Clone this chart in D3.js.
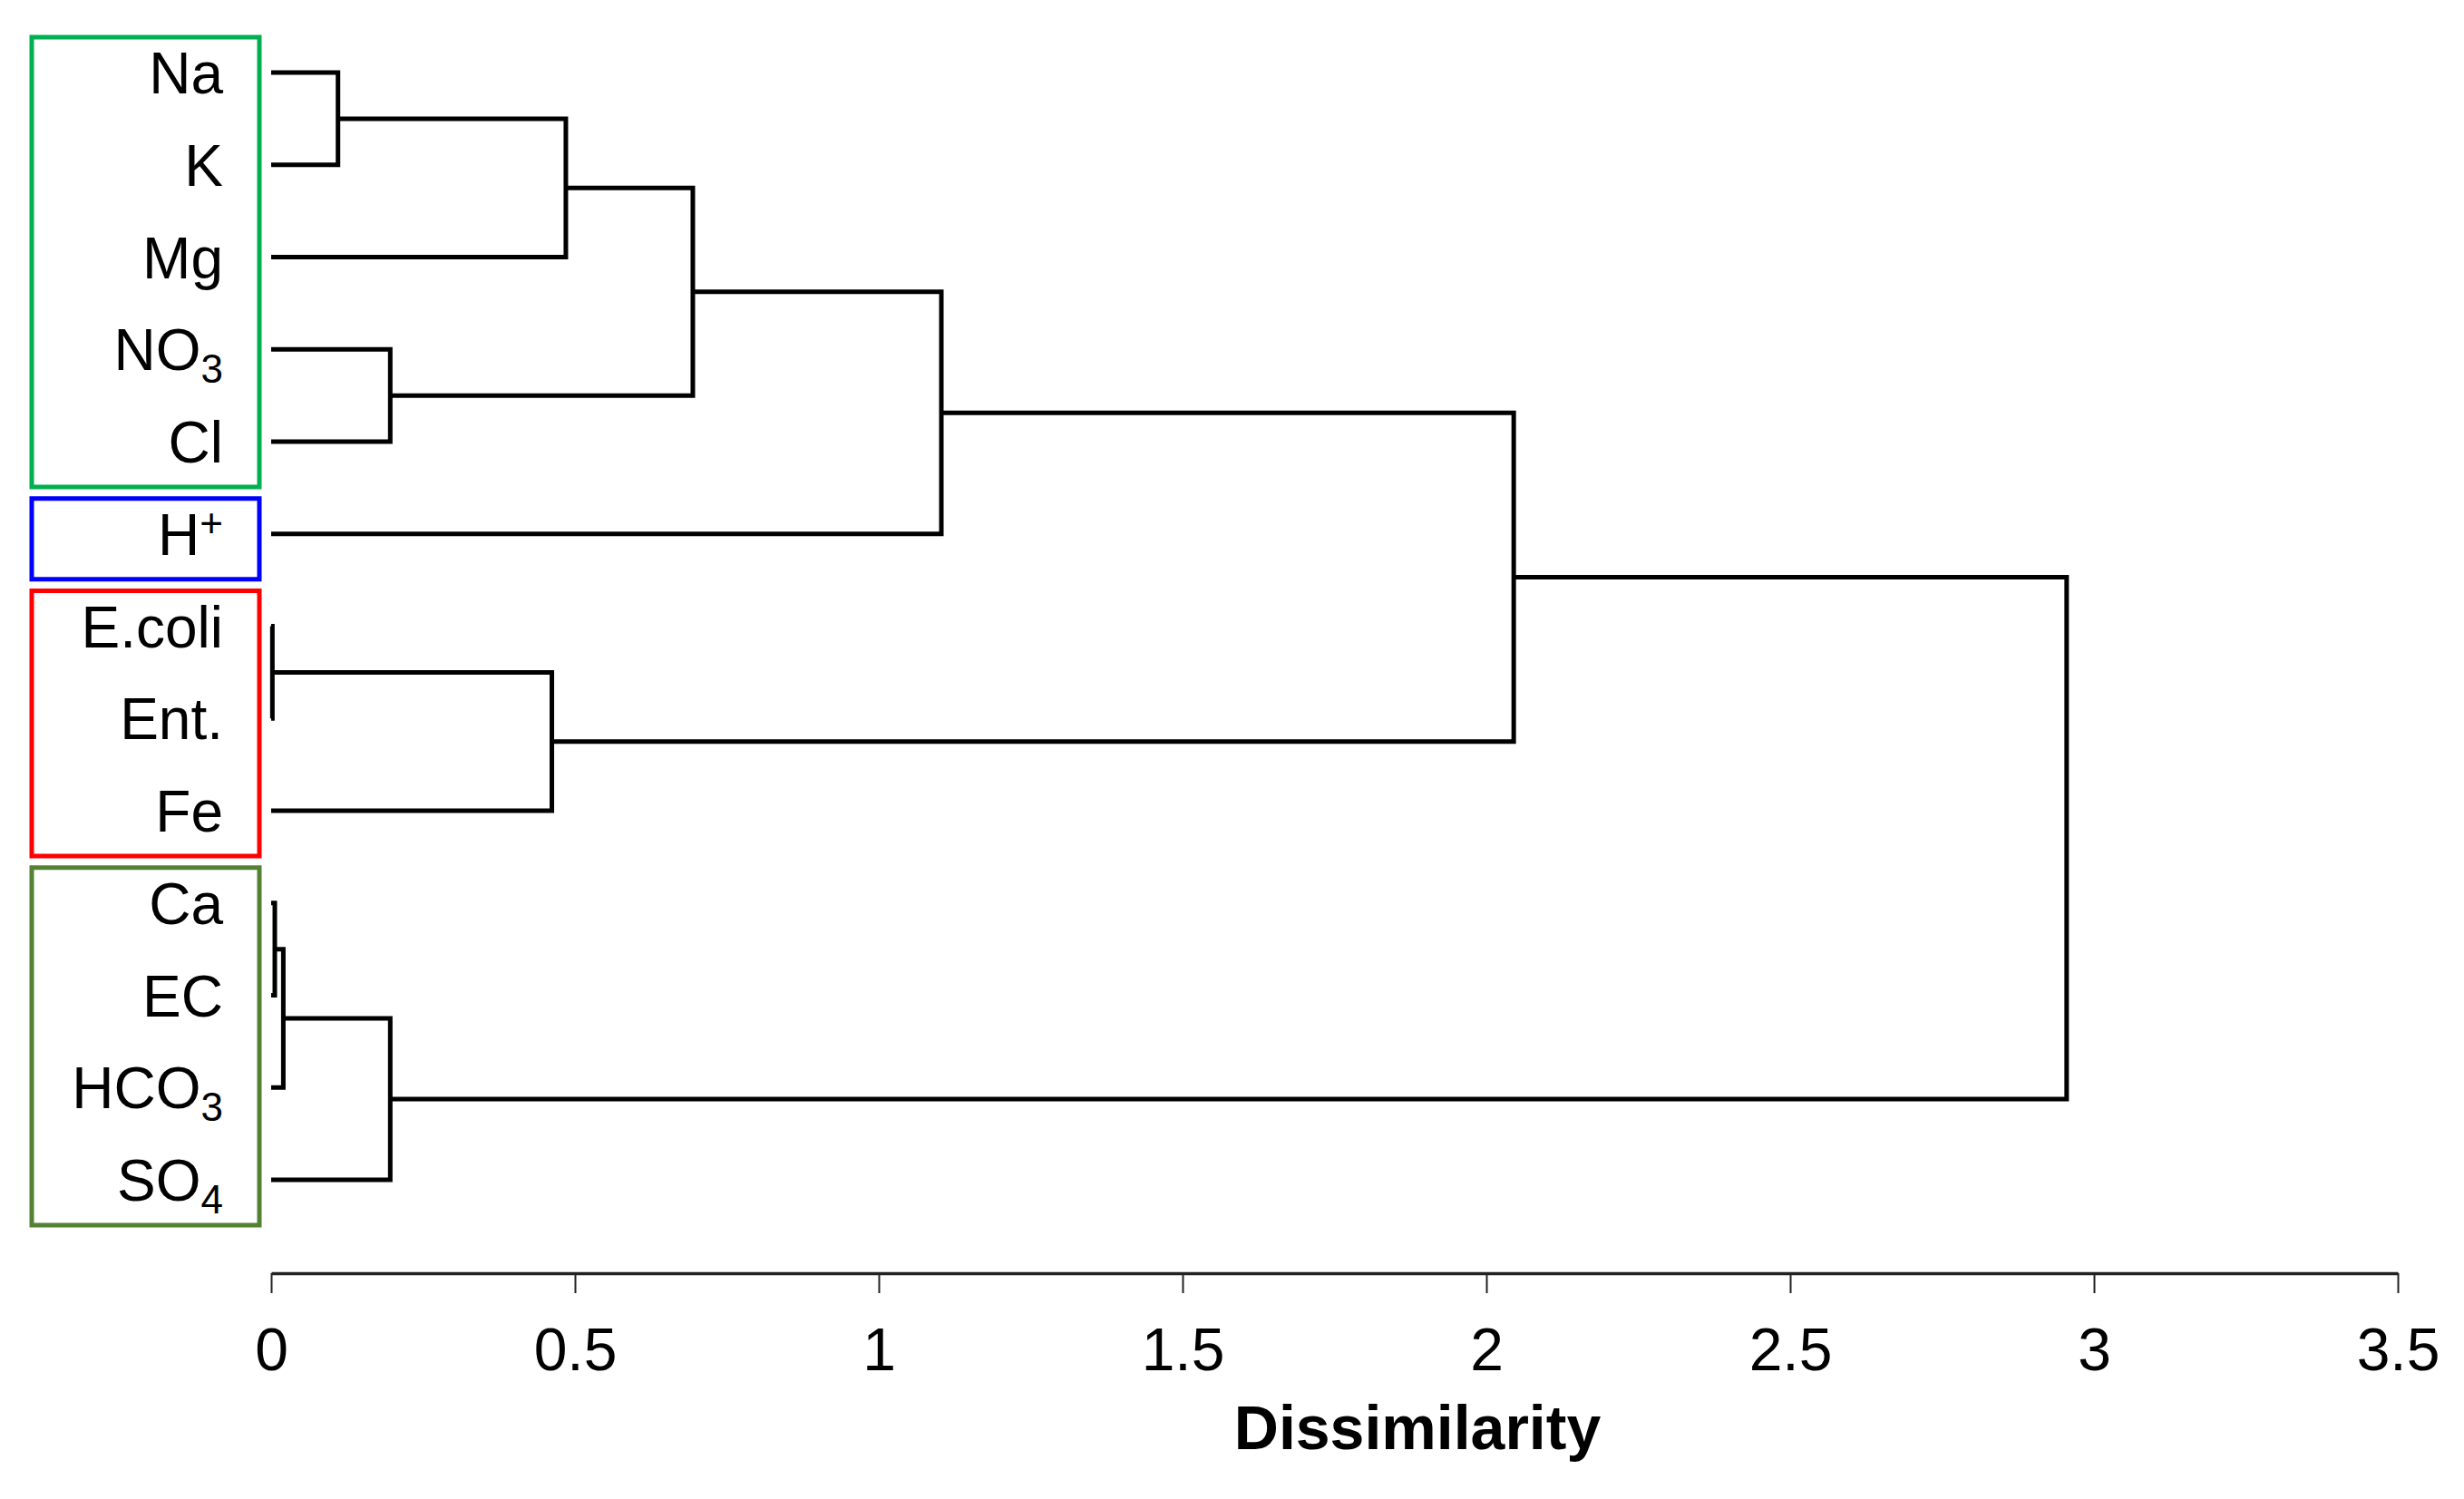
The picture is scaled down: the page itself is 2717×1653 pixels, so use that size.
<!DOCTYPE html>
<html>
<head>
<meta charset="utf-8">
<script src="https://cdn.jsdelivr.net/npm/d3@7"></script>
<style>
  html, body { margin: 0; padding: 0; background: #fff; }
  svg { display: block; }
  text { font-family: "Liberation Sans", Arial, Helvetica, sans-serif; fill: #000; }
</style>
</head>
<body>
<svg id="chart" width="2717" height="1653"></svg>
<script>
// ---------------- DATA ----------------
const leafMain = ["Na", "K", "Mg", "NO", "Cl", "H", "E.coli", "Ent.", "Fe", "Ca", "EC", "HCO", "SO"];
const leafSub  = ["", "", "", "3", "", "", "", "", "", "", "", "3", "4"];
const leafSup  = ["", "", "", "", "", "+", "", "", "", "", "", "", ""];

// merges: node ids 0..12 are leaves, merge k gets id 13 + k
const mergeLeft   = [0, 13, 3, 14, 16, 6, 18, 17, 9, 21, 22, 20];
const mergeRight  = [1, 2, 4, 15, 5, 7, 8, 19, 10, 11, 12, 23];
const mergeHeight = [0.110, 0.485, 0.196, 0.694, 1.103, 0.002, 0.462, 2.045, 0.006, 0.020, 0.196, 2.955];

// groups (boxes around labels)
const groupStart = [0, 5, 6, 9];
const groupEnd   = [4, 5, 8, 12];
const groupColor = ["#00B050", "#0000FF", "#FF0000", "#548235"];

const tickValues = [0, 0.5, 1, 1.5, 2, 2.5, 3, 3.5];
const axisTitle = "Dissimilarity";

// ---------------- LAYOUT ----------------
const svg = d3.select("#chart");
const x = d3.scaleLinear().domain([0, 3.5]).range([299, 2644]);
const y = d3.scalePoint().domain(d3.range(leafMain.length)).range([80, 1301]);

// node positions
const nodeY = [], nodeH = [];
leafMain.forEach((_, i) => { nodeY[i] = y(i); nodeH[i] = 0; });
mergeHeight.forEach((h, k) => {
  const id = leafMain.length + k;
  nodeY[id] = (nodeY[mergeLeft[k]] + nodeY[mergeRight[k]]) / 2;
  nodeH[id] = h;
});

// ---------------- BOXES ----------------
const boxLeft = 35, boxRight = 286, padTop = 39, padBottom = 50;
svg.append("g").selectAll("rect")
  .data(groupStart.map((s, i) => ({ s, e: groupEnd[i], c: groupColor[i] })))
  .join("rect")
  .attr("x", boxLeft)
  .attr("width", boxRight - boxLeft)
  .attr("y", d => y(d.s) - padTop)
  .attr("height", d => y(d.e) + padBottom - (y(d.s) - padTop))
  .attr("fill", "none")
  .attr("stroke", d => d.c)
  .attr("stroke-width", 5);

// ---------------- LABELS ----------------
const labelX = 246;
const lab = svg.append("g").selectAll("text")
  .data(leafMain.map((m, i) => ({ m, sub: leafSub[i], sup: leafSup[i], i })))
  .join("text")
  .attr("x", labelX)
  .attr("y", d => y(d.i) + 23)
  .attr("text-anchor", "end")
  .attr("font-size", 64);
lab.append("tspan").text(d => d.m);
lab.filter(d => d.sub).append("tspan")
  .attr("font-size", 44).attr("dy", 14).text(d => d.sub);
lab.filter(d => d.sup).append("tspan")
  .attr("font-size", 44).attr("dy", -20).text(d => d.sup);

// ---------------- DENDROGRAM ----------------
svg.append("g").selectAll("path")
  .data(mergeHeight.map((h, k) => ({ h, l: mergeLeft[k], r: mergeRight[k] })))
  .join("path")
  .attr("d", d => {
    const p = d3.path();
    p.moveTo(x(nodeH[d.l]), nodeY[d.l]);
    p.lineTo(x(d.h), nodeY[d.l]);
    p.lineTo(x(d.h), nodeY[d.r]);
    p.lineTo(x(nodeH[d.r]), nodeY[d.r]);
    return p.toString();
  })
  .attr("fill", "none")
  .attr("stroke", "#000")
  .attr("stroke-width", 5)
  .attr("stroke-linejoin", "miter");

// ---------------- AXIS ----------------
const axisY = 1404;
const axisG = svg.append("g")
  .attr("transform", `translate(0,${axisY})`)
  .call(d3.axisBottom(x).tickValues(tickValues).tickSize(22).tickSizeOuter(0).tickFormat(d => String(d)));
axisG.select(".domain").attr("stroke", "#222").attr("stroke-width", 3.5);
axisG.selectAll(".tick line").attr("stroke", "#222").attr("stroke-width", 2);
axisG.selectAll(".tick text")
  .attr("y", 107).attr("dy", 0)
  .attr("font-size", 66)
  .attr("font-family", "'Liberation Sans', Arial, sans-serif")
  .attr("fill", "#000");

svg.append("text")
  .attr("x", 1563)
  .attr("y", 1598)
  .attr("text-anchor", "middle")
  .attr("font-size", 68)
  .attr("font-weight", "bold")
  .text(axisTitle);
</script>
</body>
</html>
